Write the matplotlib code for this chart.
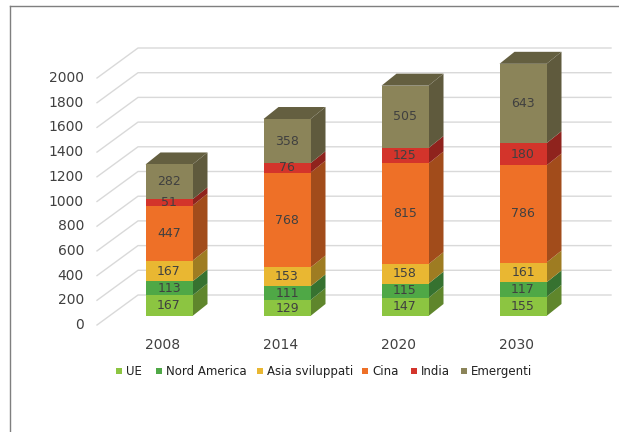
import matplotlib.pyplot as plt
from matplotlib.patches import Polygon
from matplotlib.lines import Line2D
import matplotlib.colors as mcolors
import numpy as np

years = ["2008", "2014", "2020", "2030"]
series = ["UE", "Nord America", "Asia sviluppati", "Cina", "India", "Emergenti"]
ue = [167, 129, 147, 155]
nord_america = [113, 111, 115, 117]
asia_sviluppati = [167, 153, 158, 161]
cina = [447, 768, 815, 786]
india = [51, 76, 125, 180]
emergenti = [282, 358, 505, 643]
yticks = list(range(0, 2001, 200))

values = [ue, nord_america, asia_sviluppati, cina, india, emergenti]
colors = ["#8cc541", "#4fa846", "#e9b732", "#ee7027", "#d3342b", "#8b8459"]

W, H = 619, 432
fig = plt.figure(figsize=(W / 100, H / 100), dpi=100)
ax = fig.add_axes([0, 0, 1, 1])
ax.axis("off")

# pixel geometry -> data units
px_x = 118.0          # px per category
px_y = 0.1235         # px per unit of value
x_first = 169         # px centre of first bar
y_zero = 316          # px (from top) of bar base
ax.set_xlim(-x_first / px_x, (W - x_first) / px_x)
ax.set_ylim(-(H - y_zero) / px_y, y_zero / px_y)

def ux(p):
    return p / px_x

def uy(p):
    return p / px_y

# back wall gridlines (3D style)
for v in yticks:
    xs = [ux(97 - x_first), ux(138 - x_first), ux(611 - x_first)]
    ys = [v - uy(9), v + uy(21), v + uy(21)]
    ax.plot(xs, ys, color="#d9d9d9", lw=1, zorder=1)
    ax.text(ux(84 - x_first), v - uy(9), str(v), ha="right", va="center",
            fontsize=10, color="#404040")

def shade(c, f):
    r, g, b = mcolors.to_rgb(c)
    return (r * f, g * f, b * f)

w = ux(47)
ddx, ddy = ux(15), uy(12)
x = np.arange(len(years))
bottom = np.zeros(len(years))
for vals, col in zip(values, colors):
    vals = np.array(vals, dtype=float)
    ax.bar(x, vals, width=w, bottom=bottom, color=col, zorder=3, linewidth=0)
    for i in range(len(years)):
        b, h = bottom[i], vals[i]
        xr = x[i] + w / 2
        side = Polygon([(xr, b), (xr + ddx, b + ddy), (xr + ddx, b + h + ddy), (xr, b + h)],
                       closed=True, facecolor=shade(col, 0.68), edgecolor="none", zorder=2)
        ax.add_patch(side)
        ax.text(x[i], b + h / 2, str(int(h)), ha="center", va="center",
                fontsize=9, color="#404040", zorder=5)
    bottom = bottom + vals

for i in range(len(years)):
    t = bottom[i]
    top = Polygon([(x[i] - w / 2, t), (x[i] + w / 2, t), (x[i] + w / 2 + ddx, t + ddy),
                   (x[i] - w / 2 + ddx, t + ddy)], closed=True,
                  facecolor=shade(colors[-1], 0.72), edgecolor="none", zorder=2)
    ax.add_patch(top)
    ax.text(x[i] - ux(6), -uy(29), years[i], ha="center", va="center",
            fontsize=10, color="#404040")

# legend drawn by hand so all labels share one baseline
leg_x = [119, 159, 260, 365, 414, 464]   # px of marker centres
for lx, name, col in zip(leg_x, series, colors):
    ax.scatter([ux(lx - x_first)], [-uy(371 - y_zero)], marker="s", s=22,
               color=col, linewidths=0, zorder=5)
    ax.text(ux(lx + 7 - x_first), -uy(375 - y_zero), name, ha="left", va="baseline",
            fontsize=8.5, color="#202020")

# outer frame
fig.add_artist(Line2D([10 / W, 10 / W], [0, 1 - 6 / H], color="#7f7f7f", lw=1))
fig.add_artist(Line2D([10 / W, 1], [1 - 6 / H, 1 - 6 / H], color="#7f7f7f", lw=1))

fig.savefig("out.png", dpi=100)
